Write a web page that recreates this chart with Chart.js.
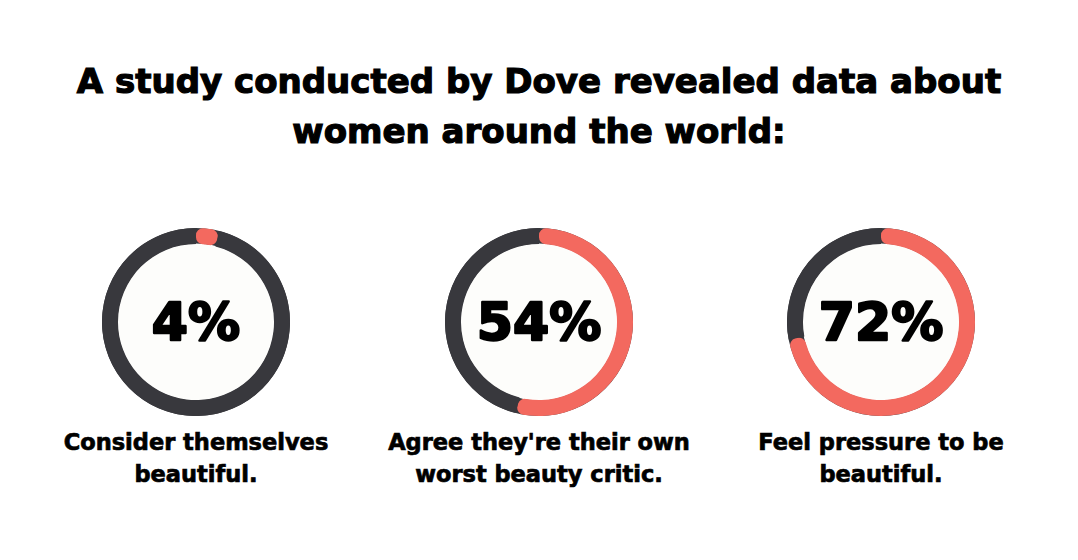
<!DOCTYPE html>
<html>
<head>
<meta charset="utf-8">
<script src="https://cdn.jsdelivr.net/npm/chart.js@4.4.1/dist/chart.umd.min.js"></script>
<style>
  html, body { margin: 0; padding: 0; background: #ffffff; }
  body { width: 1078px; height: 560px; position: relative; overflow: hidden; font-family: "DejaVu Sans", sans-serif; }
  #title { position: absolute; left: 0; top: 56px; width: 1078px; text-align: center; font-weight: bold; font-size: 34px; line-height: 50px; color: #000; -webkit-text-stroke: 1.2px #000; }
  .wrap { position: absolute; width: 188px; height: 188px; }
  .lbl { position: absolute; width: 360px; text-align: center; font-weight: bold; font-size: 22.5px; line-height: 32px; color: #000; -webkit-text-stroke: 0.7px #000; }
</style>
</head>
<body>
<div id="title">A study conducted by Dove revealed data about<br>women around the world:</div>
<div id="stage"></div>
<script>
// ---- data ----
const categories = [
  ["Consider themselves", "beautiful."],
  ["Agree they're their own", "worst beauty critic."],
  ["Feel pressure to be", "beautiful."]
];
const percentages = [4, 54, 72];
const centerLabels = ["4%", "54%", "72%"];

// ---- style / layout ----
const CORAL = "#f3695f";
const DARK = "#38383d";
const centersX = [196, 539, 881];
const centerY = 322;
const SIZE = 188;

const ringBackground = {
  id: "ringBackground",
  beforeDatasetsDraw(chart) {
    const arc = chart.getDatasetMeta(0).data[0];
    if (!arc) return;
    const { x, y, innerRadius, outerRadius } = arc.getProps(["x", "y", "innerRadius", "outerRadius"], true);
    const ctx = chart.ctx;
    ctx.save();
    ctx.beginPath();
    ctx.arc(x, y, outerRadius, 0, Math.PI * 2);
    ctx.arc(x, y, innerRadius + 0.5, 0, Math.PI * 2, true);
    ctx.fillStyle = DARK;
    ctx.fill("evenodd");
    ctx.beginPath();
    ctx.arc(x, y, innerRadius, 0, Math.PI * 2);
    ctx.fillStyle = "#fdfdfb";
    ctx.fill();
    ctx.restore();
  }
};

const centerText = {
  id: "centerText",
  afterDatasetsDraw(chart, args, opts) {
    const arc = chart.getDatasetMeta(0).data[0];
    if (!arc) return;
    const ctx = chart.ctx;
    ctx.save();
    ctx.font = 'bold 52px "DejaVu Sans"';
    ctx.fillStyle = "#000";
    ctx.strokeStyle = "#000";
    ctx.lineWidth = 2.4;
    ctx.lineJoin = "round";
    ctx.textAlign = "center";
    ctx.textBaseline = "alphabetic";
    ctx.strokeText(opts.text, arc.x, arc.y + 18);
    ctx.fillText(opts.text, arc.x, arc.y + 18);
    ctx.restore();
  }
};

const stage = document.getElementById("stage");
percentages.forEach((p, i) => {
  const wrap = document.createElement("div");
  wrap.className = "wrap";
  wrap.style.left = (centersX[i] - SIZE / 2) + "px";
  wrap.style.top = (centerY - SIZE / 2) + "px";
  const cv = document.createElement("canvas");
  wrap.appendChild(cv);
  stage.appendChild(wrap);

  const lbl = document.createElement("div");
  lbl.className = "lbl";
  lbl.style.left = (centersX[i] - 180) + "px";
  lbl.style.top = "426px";
  lbl.innerHTML = categories[i].join("<br>");
  stage.appendChild(lbl);

  new Chart(cv, {
    type: "doughnut",
    data: {
      labels: ["Yes", "No"],
      datasets: [{
        data: [p, 100 - p],
        backgroundColor: [CORAL, DARK],
        borderWidth: 0,
        borderRadius: (c) => c.dataIndex === 0 ? 7 : 0
      }]
    },
    options: {
      responsive: true,
      maintainAspectRatio: false,
      animation: false,
      cutout: "83%",
      layout: { padding: 0 },
      plugins: {
        legend: { display: false },
        tooltip: { enabled: false },
        centerText: { text: centerLabels[i] }
      }
    },
    plugins: [ringBackground, centerText]
  });
});
</script>
</body>
</html>
